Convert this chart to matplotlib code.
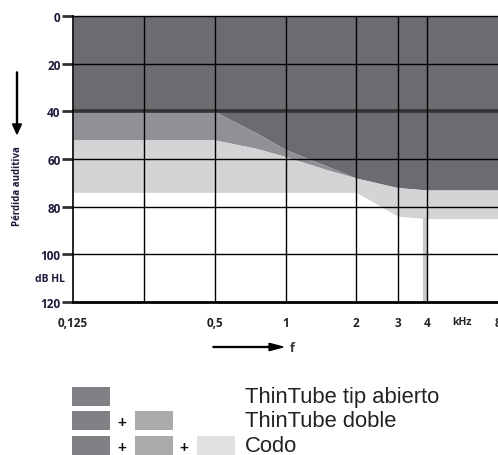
import numpy as np
import matplotlib
matplotlib.use("Agg")
import matplotlib.pyplot as plt
from matplotlib.patches import Rectangle, FancyArrow

# frecuencias (kHz) y límites inferiores de cada zona (dB HL)
freqs = [0.125, 0.25, 0.5, 0.75, 1, 1.5, 2, 3, 4, 6, 8]
tip_abierto = [40, 40, 40, 49, 56, 63, 68, 72, 73, 73, 73]
tt_doble = [52, 52, 52, 55.5, 59, 64.5, 68, 72, 73, 73, 73]
codo = [74, 74, 74, 74, 74, 74, 74, 84, 85, 85, 85]

xticks = [0.125, 0.5, 1, 2, 3, 4, 8]
xlabels = ["0,125", "0,5", "1", "2", "3", "4", "8"]
xgrid = [0.25, 0.5, 1, 2, 3, 4]
yticks = [0, 20, 40, 60, 80, 100, 120]
legend_txt = ["ThinTube tip abierto", "ThinTube doble", "Codo"]

DARK, MED, LIGHT = "#6b6c70", "#909195", "#d3d4d6"
LDARK, LMED, LLIGHT = "#808184", "#aaabad", "#dfe0e2"
TXT = "#1c1c3a"

fig = plt.figure(figsize=(4.98, 4.56), dpi=100)
ax = fig.add_axes([73/498, 153/456, 425/498, 286/456])

f = np.array(freqs)
ax.fill_between(f, 0, tip_abierto, color=DARK, lw=0, zorder=1)
ax.fill_between(f, tip_abierto, tt_doble, color=MED, lw=0, zorder=1)
ax.fill_between(f, tt_doble, codo, color=LIGHT, lw=0, zorder=1)

ax.set_xscale("log")
ax.set_xlim(0.125, 8)
ax.set_ylim(120, 0)

for y in [20, 60, 80, 100]:
    ax.axhline(y, color="black", lw=1.0, zorder=3)
ax.axhline(40, color="#333333", lw=2.6, zorder=3)
# franja clara junto a la línea de 4 kHz (parte inferior)
ax.axvline(3.93, ymin=0, ymax=(120 - 85) / 120, color="#c8c8c8", lw=3, zorder=2)
for x in xgrid:
    ax.axvline(x, color="black", lw=1.0, zorder=3)

for s in ax.spines.values():
    s.set_color("black")
    s.set_zorder(4)
ax.spines["left"].set_linewidth(1.2)
ax.spines["bottom"].set_linewidth(2)
ax.spines["top"].set_linewidth(1.0)
ax.spines["right"].set_visible(False)

ax.set_yticks(yticks)
ax.set_yticklabels([str(v) for v in yticks], fontsize=8.5, fontweight="bold",
                   color=TXT, family="Open Sans")
ax.tick_params(axis="y", length=8, width=2, color="#333333", pad=1)
ax.text(-0.02, 110, "dB HL", transform=ax.get_yaxis_transform(), ha="right",
        va="center", fontsize=7.5, fontweight="bold", color=TXT, family="Open Sans")

ax.xaxis.set_minor_locator(plt.NullLocator())
ax.set_xticks(xticks)
ax.set_xticklabels(xlabels, fontsize=8.5, fontweight="bold", color="#222222",
                   family="Open Sans")
ax.tick_params(axis="x", length=0, pad=10)
ax.text(5.6, -0.068, "kHz", transform=ax.get_xaxis_transform(),
        ha="center", va="center", fontsize=7.5, fontweight="bold", color="#222222",
        family="Open Sans")

# eje vertical: flecha y rótulo
fig.text(17/498, 1 - 186/456, "Pérdida auditiva", rotation=90, ha="center",
         va="center", fontsize=7, fontweight="bold", color=TXT, family="Open Sans")
fig.patches.append(FancyArrow(
    17/498, 1 - 73/456, 0, -62/456, width=0.002, head_width=0.018,
    head_length=0.022, length_includes_head=True, color="black",
    transform=fig.transFigure))
fig.patches.append(FancyArrow(
    213/498, 1 - 348/456, 70/498, 0, width=0.002, head_width=0.016,
    head_length=0.028, length_includes_head=True, color="black",
    transform=fig.transFigure))
fig.text(292/498, 1 - 348/456, "f", ha="center", va="center", fontsize=9,
         fontweight="bold", color="#333333", family="Open Sans")

# leyenda
rows_y = [388, 412, 437]
box_x = [72, 135, 197]
cols = [LDARK, LMED, LLIGHT]
for i, txt in enumerate(legend_txt):
    top = rows_y[i]
    for j in range(i + 1):
        fig.patches.append(Rectangle((box_x[j]/498, 1 - (top + 19)/456), 38/498, 19/456,
                                     color=cols[j], transform=fig.transFigure, lw=0))
        if j > 0:
            fig.text((box_x[j] - 13)/498, 1 - (top + 11)/456, "+", ha="center",
                     va="center", fontsize=11, fontweight="bold", color="#111111",
                     family="Liberation Sans")
    fig.text(245/498, 1 - (top + 10)/456, txt, ha="left", va="center",
             fontsize=15.8, color="#222222", family="Liberation Sans")

fig.savefig("out.png", dpi=100)
